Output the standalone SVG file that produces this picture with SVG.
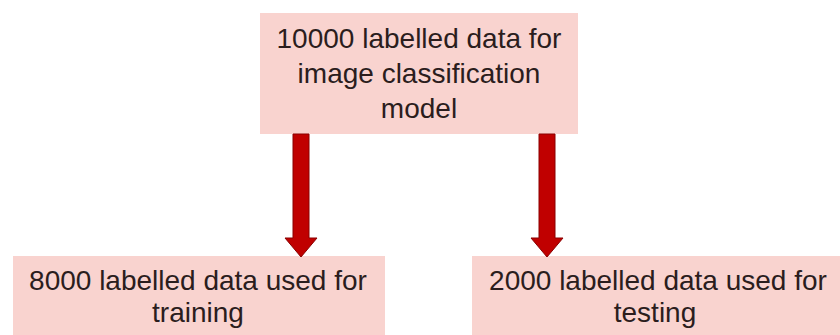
<svg xmlns="http://www.w3.org/2000/svg" width="840" height="335" viewBox="0 0 840 335">
<style>
.box{fill:#f9d3cf;stroke:none}
.t{font-family:"Liberation Sans",Arial,sans-serif;font-size:28px;fill:#2b1d1d;text-anchor:middle}
.arrow{fill:#c00000;stroke:#8a0000;stroke-width:1}
</style>
<rect width="840" height="335" fill="#ffffff"/>
<g id="top">
<rect class="box" x="260" y="13" width="318" height="121"/>
<text class="t" x="419" y="48">10000 labelled data for</text>
<text class="t" x="419" y="83">image classification</text>
<text class="t" x="419" y="118">model</text>
</g>
<g id="train">
<rect class="box" x="13" y="256" width="372" height="79"/>
<text class="t" x="198" y="290">8000 labelled data used for</text>
<text class="t" x="198" y="322">training</text>
</g>
<g id="test">
<rect class="box" x="472" y="256" width="368" height="79"/>
<text class="t" x="658" y="290">2000 labelled data used for</text>
<text class="t" x="655" y="322">testing</text>
</g>
<g id="connectors">
<polygon class="arrow" points="293,134 309,134 309,238 317,238 301,257 285,238 293,238"/>
<polygon class="arrow" points="539,134 555,134 555,238 563,238 547,257 531,238 539,238"/>
</g>
</svg>
